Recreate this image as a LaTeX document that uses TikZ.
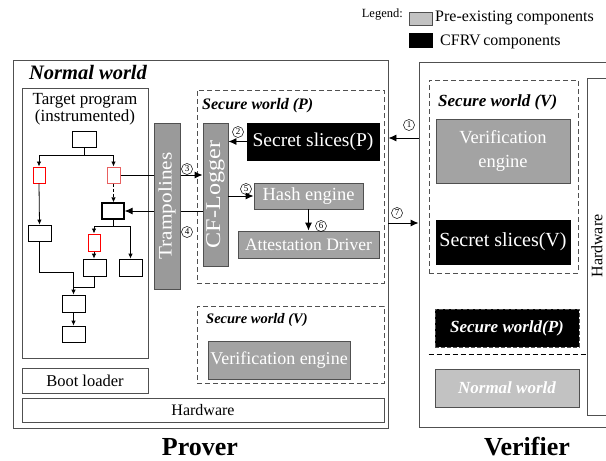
\documentclass[tikz,border=0pt]{standalone}
\usepackage{fontspec}
\usepackage{graphicx}
\setmainfont{Liberation Serif}
\usetikzlibrary{arrows.meta,calc}

\definecolor{edge}{HTML}{505050}
\definecolor{midgray}{HTML}{9A9A9A}
\definecolor{compgray}{HTML}{A3A3A3}
\definecolor{lightgray}{HTML}{C2C2C2}
\definecolor{lightred}{HTML}{E86060}

\newcommand\fsz[1]{\fontsize{#1}{1.15\dimexpr #1pt\relax}\selectfont}

\tikzset{
  frame/.style={draw=edge, line width=0.9pt, inner sep=0pt},
  dashbox/.style={draw=edge, line width=0.9pt, dash pattern=on 5pt off 3pt, inner sep=0pt},
  graybox/.style={frame, fill=compgray, text=white},
  blackbox/.style={draw=black, fill=black, text=white, inner sep=0pt},
  blk/.style={draw=black, line width=0.8pt, inner sep=0pt, fill=white},
  redblk/.style={draw=red, line width=1pt, inner sep=0pt, fill=white},
  lredblk/.style={draw=lightred, line width=1pt, inner sep=0pt, fill=white},
  cfgarrow/.style={line width=0.8pt, -{Latex[length=5pt,width=4.5pt]}},
  cfgline/.style={line width=0.8pt},
  bigarrow/.style={line width=0.9pt, -{Latex[length=8pt,width=7pt]}},
  num/.style={circle, draw=black, line width=0.5pt, inner sep=0pt, minimum size=11pt, font=\fsz{9}},
  worldlabel/.style={font=\fsz{#1}\bfseries\itshape, inner sep=0pt},
  title/.style={font=\fsz{26}\bfseries, inner sep=0pt},
}

\begin{document}
\begin{tikzpicture}[x=1pt, y=-1pt]
\useasboundingbox (0,0) rectangle (606,461);
\clip (0,0) rectangle (606,461);

% ---------- legend ----------
\node[font=\fsz{12.5}, anchor=east, inner sep=0pt] (legtitle) at (403,15) {Legend:};
\node[frame, fill=lightgray, minimum width=23pt, minimum height=13pt] (leggray) at (420.5,18.5) {};
\node[font=\fsz{16}, anchor=west, inner sep=0pt] (legpre) at (435,18) {Pre-existing components};
\node[blackbox, minimum width=23pt, minimum height=14pt] (legblack) at (420.5,40) {};
\node[font=\fsz{16}, anchor=west, inner sep=0pt] (legcfrv) at (440,42) {CFRV\,components};

% ---------- prover ----------
\node[frame, minimum width=375pt, minimum height=368pt] (prover) at (200.5,244) {};
\node[worldlabel=20.5] (nwlabel) at (88,72) {Normal world};

\node[frame, minimum width=126pt, minimum height=270pt] (target) at (85,223) {};
\node[align=center, font=\fsz{17}, inner sep=0pt] (targettext) at (85,109)
  {Target program\\[-2.5pt](instrumented)};

% control-flow graph of the instrumented program
\node[blk, minimum width=24pt, minimum height=16pt] (A) at (84,139) {};
\node[redblk, minimum width=12pt, minimum height=16pt] (R1) at (39,175) {};
\node[lredblk, minimum width=13pt, minimum height=16pt] (R2) at (113.5,175) {};
\node[blk, line width=1.3pt, minimum width=22pt, minimum height=16pt] (B) at (113,211) {};
\node[blk, minimum width=23pt, minimum height=16pt] (C) at (39.5,233) {};
\node[redblk, minimum width=12pt, minimum height=17pt] (R3) at (94,242.5) {};
\node[blk, minimum width=23pt, minimum height=17pt] (D) at (94.5,267.5) {};
\node[blk, minimum width=23pt, minimum height=17pt] (E) at (130.5,267.5) {};
\node[blk, minimum width=23pt, minimum height=17pt] (F) at (73.5,303.5) {};
\node[blk, minimum width=23pt, minimum height=16pt] (G) at (73.5,334) {};

\coordinate (a1) at (84,155);
\coordinate (b1) at (113,226);
\coordinate (m1) at (73.5,272);
\coordinate (m2) at (73.5,287);

\draw[cfgline] (A.south) -- (a1);
\draw[cfgarrow] (a1) -| (R1.north);
\draw[cfgarrow] (a1) -| (R2.north);
\draw[cfgarrow, dash pattern=on 3pt off 2pt] (R2.south) -- (R2.south |- B.north);
\draw[cfgarrow] (R1.south) -- (C.north);
\draw[cfgline] (B.south) -- (b1);
\draw[cfgarrow] (b1) -| (R3.north);
\draw[cfgarrow] (b1) -| (E.north);
\draw[cfgarrow] (R3.south) -- (R3.south |- D.north);
\draw[cfgarrow] (C.south) |- (m1) -- (F.north);
\draw[cfgline] (D.south) |- (m2);
\draw[cfgarrow] (F.south) -- (G.north);

\node[frame, minimum width=126pt, minimum height=25pt, font=\fsz{16.5}] (boot) at (85,380.5) {Boot loader};
\node[frame, minimum width=362pt, minimum height=24pt, font=\fsz{16}] (hwp) at (203,410) {Hardware};

% secure world of the prover
\node[dashbox, minimum width=187pt, minimum height=193pt] (swp) at (290.5,186.5) {};
\node[worldlabel=16, anchor=west] (swptext) at (202,106) {Secure world (P)};

\node[frame, fill=midgray, text=white, minimum width=25pt, minimum height=143pt, font=\fsz{21}] (cfl)
  at (215.5,194.5) {\rotatebox{90}{\scalebox{1.15}[1]{CF-Logger}}};
\node[blackbox, minimum width=132pt, minimum height=37pt, font=\fsz{19.5}] (ssp) at (313,141.5) {Secret slices(P)};
\node[graybox, minimum width=109pt, minimum height=26pt, font=\fsz{18.5}] (he) at (308.5,196) {Hash engine};
\node[graybox, minimum width=141pt, minimum height=27pt, font=\fsz{17.5}] (ad) at (308.5,244.5) {Attestation Driver};

% connectors between program, trampolines and logger
\draw[bigarrow] (R2.east) -- (R2.east -| cfl.west);
\draw[bigarrow] (B.east -| cfl.west) -- (B.east);
\draw[bigarrow] (ssp.west) -- (ssp.west -| cfl.east);
\draw[bigarrow] (cfl.east |- he.west) -- (he.west);
\draw[bigarrow] (he.south) -- (he.south |- ad.north);

\node[frame, fill=midgray, text=white, minimum width=26pt, minimum height=166pt, font=\fsz{19}] (tramp)
  at (167,206) {\rotatebox{90}{\scalebox{1.12}[1]{Trampolines}}};

\node[num] (n2) at (238,132) {2};
\node[num] (n3) at (187,169) {3};
\node[num] (n4) at (187,232) {4};
\node[num] (n5) at (246,189) {5};
\node[num] (n6) at (321,226) {6};

% verifier's secure world mirrored on the prover
\node[dashbox, minimum width=187pt, minimum height=77pt] (swvp) at (290.5,344.5) {};
\node[worldlabel=14.5, anchor=west] (swvptext) at (206,320) {Secure world (V)};
\node[graybox, minimum width=142pt, minimum height=38pt, font=\fsz{18}] (vep) at (279,360) {Verification engine};

\node[title] (provertext) at (200,447) {Prover};

% ---------- verifier ----------
\node[frame, minimum width=196pt, minimum height=365pt] (verifier) at (517,244.5) {};
\node[dashbox, minimum width=149pt, minimum height=193pt] (swv) at (503.5,176.5) {};
\node[worldlabel=17, anchor=west] (swvtext) at (438,102) {Secure world (V)};
\node[graybox, minimum width=134pt, minimum height=64pt, font=\fsz{18.5}, align=center] (vev)
  at (503,151) {Verification\\[2pt]engine};
\node[blackbox, minimum width=134pt, minimum height=44pt, font=\fsz{20}] (ssv) at (503,242) {Secret slices(V)};

\node[blackbox, draw=edge, dash pattern=on 4pt off 2pt, line width=0.9pt, minimum width=144pt, minimum height=38pt,
  font=\fsz{17}\bfseries\itshape] (swpv) at (507,328) {Secure world(P)};
\node[frame, fill=lightgray, text=white, minimum width=144pt, minimum height=38pt,
  font=\fsz{17}\bfseries\itshape] (nwv) at (507,388) {Normal world};

\node[frame, minimum width=40pt, minimum height=337pt] (hwv) at (607,246.5) {};
\node[rotate=90, font=\fsz{16}, inner sep=0pt] (hwvtext) at (597,246) {Hardware};
\draw[line width=1pt, dash pattern=on 5pt off 3pt] (swv.west |- 0,354) -- (hwv.west |- 0,354);

\node[title] (verifiertext) at (527,447) {Verifier};

% ---------- prover <-> verifier ----------
\draw[bigarrow] ([yshift=106.5pt]verifier.west) -- ([yshift=106.5pt]verifier.west -| prover.east);
\draw[bigarrow] ([yshift=21pt]prover.east) -- ([yshift=21pt]prover.east -| verifier.west);
\node[num] (n1) at (409,125) {1};
\node[num] (n7) at (397,213) {7};

\end{tikzpicture}
\end{document}
